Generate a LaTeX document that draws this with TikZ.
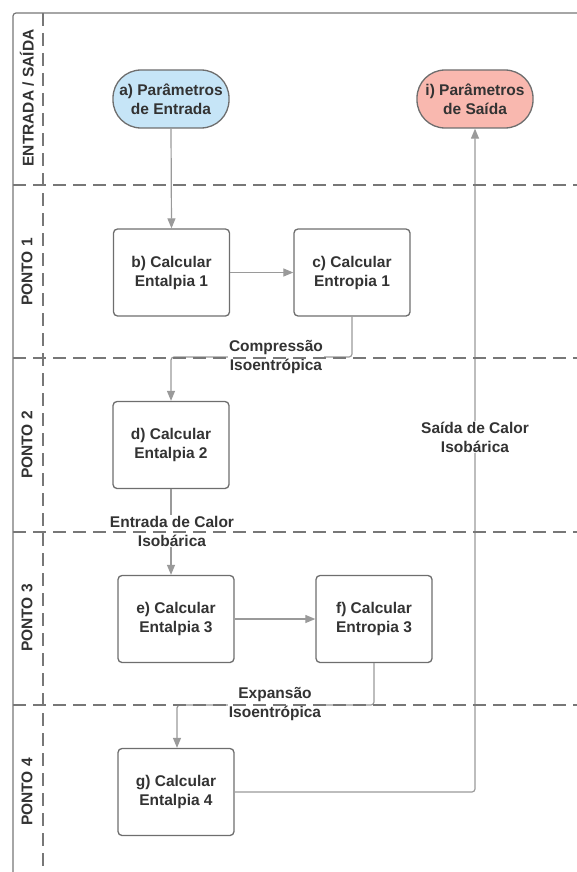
\documentclass[tikz,border=0pt]{standalone}
\usepackage{fontspec}
\setmainfont{Liberation Sans}
\usetikzlibrary{arrows.meta}
\definecolor{txt}{HTML}{333333}
\definecolor{boxline}{HTML}{6E6E6E}
\definecolor{conn}{HTML}{9A9A9A}
\definecolor{lane}{HTML}{777777}
\definecolor{inblue}{HTML}{C6E5F7}
\definecolor{outred}{HTML}{F9B8AF}
\tikzset{
  base/.style={font=\fontsize{15.5}{19}\selectfont\bfseries, text=txt, align=center, inner sep=0pt},
  stepbox/.style={base, draw=boxline, line width=1.3pt, rounded corners=4pt, minimum width=116pt, minimum height=87pt, fill=white},
  terminal/.style={base, draw=boxline, line width=1.3pt, rounded corners=28pt, minimum width=116pt, minimum height=58pt},
  conline/.style={draw=conn, line width=1.2pt, rounded corners=3pt},
  arr/.style={conline, -{Triangle[length=10pt,width=8pt]}},
  lbl/.style={base, fill=white, inner sep=1pt},
  lanelbl/.style={base, rotate=90},
  lanedash/.style={draw=lane, line width=1.2pt, dash pattern=on 13pt off 7pt}
}
\begin{document}
\begin{tikzpicture}[x=1pt,y=-1pt]
\useasboundingbox (0,0) rectangle (577,872);
% nodes
\node[terminal, fill=inblue] (a) at (171,99) {a) Parâmetros\\de Entrada};
\node[terminal, fill=outred] (i) at (475,99) {i) Parâmetros\\de Saída};
\node[stepbox] (b) at (171.5,272.5) {b) Calcular\\Entalpia 1};
\node[stepbox] (c) at (352,272.5) {c) Calcular\\Entropia 1};
\node[stepbox] (d) at (171,445) {d) Calcular\\Entalpia 2};
\node[stepbox] (e) at (176,619) {e) Calcular\\Entalpia 3};
\node[stepbox] (f) at (374,619) {f) Calcular\\Entropia 3};
\node[stepbox] (g) at (176,792) {g) Calcular\\Entalpia 4};
\coordinate (c1) at (352,357);
\coordinate (c2) at (171,357);
\coordinate (f1) at (374,705);
\coordinate (f2) at (177,705);
% connectors
\draw[arr] (a.south) -- (b.north);
\draw[arr] (b.east) -- (c.west);
\draw[arr] (c.south) -- (c1) -- (c2) -- (d.north);
\draw[arr] (d.south) -- (d.south |- e.north);
\draw[arr] (e.east) -- (f.west);
\draw[arr] (f.south) -- (f1) -- (f2) -- (f2 |- g.north);
\draw[arr] (g.east) -| (i.south);
% labels
\node[lbl] (l1) at (276,357) {Compressão\\Isoentrópica};
\node[lbl] (l2) at (172,531) {Entrada de Calor\\Isobárica};
\node[lbl] (l3) at (275,704) {Expansão\\Isoentrópica};
\node[lbl] (l4) at (475,437) {Saída de Calor\\Isobárica};
% lanes
\draw[draw=lane, line width=1.2pt, rounded corners=3pt] (13,880) -- (13,13) -- (590,13);
\draw[lanedash] (43,13) -- (43,880);
\foreach \yy in {185,358,532,705} {
  \draw[lanedash] (13,\yy) -- (590,\yy);
}
\node[lanelbl] (p0) at (27,98) {ENTRADA / SAÍDA};
\node[lanelbl] (p1) at (27,272) {PONTO 1};
\node[lanelbl] (p2) at (27,445) {PONTO 2};
\node[lanelbl] (p3) at (27,618) {PONTO 3};
\node[lanelbl] (p4) at (27,792) {PONTO 4};
\end{tikzpicture}
\end{document}
